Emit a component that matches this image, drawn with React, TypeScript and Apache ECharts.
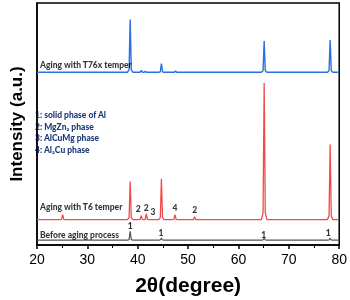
import React, { useEffect, useRef } from "react";
import * as echarts from "echarts";

// 2θ range and tick labels
const xMin = 20;
const xMax = 80;
const xStep = 10;

// Baselines (arbitrary intensity units, stacked offsets)
const beforeBase = 5;
const t6Base = 26;
const t76Base = 177;

// Peaks: [2θ, height above baseline]
const beforePeaks: number[][] = [
  [38.5, 9],
  [44.7, 2],
  [65.1, 2],
  [78.2, 2],
];
const t6Peaks: number[][] = [
  [25.1, 5],
  [38.5, 39],
  [40.7, 4],
  [41.7, 6],
  [44.7, 42],
  [47.4, 5],
  [51.3, 3],
  [65.1, 140],
  [78.2, 77],
];
const t76Peaks: number[][] = [
  [38.5, 54],
  [40.7, 2],
  [41.5, 1],
  [44.7, 9],
  [47.5, 1.5],
  [65.1, 32],
  [78.2, 33],
];

// Phase annotation labels: [2θ, y, text]
const t6Marks: [number, number, string][] = [
  [40.1, 37, "2"],
  [41.7, 38, "2"],
  [43.0, 34, "3"],
  [47.4, 38, "4"],
  [51.3, 36, "2"],
];
const beforeMarks: [number, number, string][] = [
  [38.5, 19, "1"],
  [44.6, 12, "1"],
  [65.0, 10, "1"],
  [77.8, 12, "1"],
];

// Series name labels: [2θ, y, text]
const seriesNames: [number, number, string][] = [
  [20.6, 184, "Aging with T76x temper"],
  [20.6, 39, "Aging with T6 temper"],
  [20.6, 10, "Before aging process"],
];

const phaseLegend = [
  "1: solid phase of Al",
  "2: MgZn₂ phase",
  "3: AlCuMg phase",
  "4: Al₂Cu phase",
];

// peak shape used for drawing (offset in 2θ, fraction of height)
const profile: number[][] = [
  [-0.55, 0],
  [-0.22, 0.05],
  [0, 1],
  [0.22, 0.05],
  [0.55, 0],
];

function buildLine(base: number, peaks: number[][]) {
  const pts: number[][] = [[xMin, base]];
  peaks.forEach(([p, h]) => {
    profile.forEach(([dx, f]) => pts.push([p + dx, base + h * f]));
  });
  pts.push([xMax, base]);
  return pts;
}

const smallFont = "Lato, 'DejaVu Sans', sans-serif";

function labelSeries(marks: [number, number, string][], position: string, color: string) {
  return {
    type: "scatter",
    symbolSize: 0,
    silent: true,
    z: 5,
    data: marks.map(([x, y, t]) => ({ value: [x, y], name: t })),
    label: {
      show: true,
      position,
      distance: 0,
      formatter: "{b}",
      fontSize: 8.5,
      fontWeight: 900,
      fontFamily: smallFont,
      color,
    },
  };
}

export default function App() {
  const ref = useRef<HTMLDivElement>(null);
  useEffect(() => {
    if (!ref.current) return;
    const chart = echarts.init(ref.current, undefined, { renderer: "svg" });
    chart.setOption({
      animation: false,
      grid: {
        left: 31,
        right: 9,
        top: 3,
        bottom: 49,
        show: true,
        borderColor: "#000",
        borderWidth: 1.5,
      },
      xAxis: {
        type: "value",
        min: xMin,
        max: xMax,
        interval: xStep,
        name: "2θ(degree)",
        nameLocation: "middle",
        nameGap: 29,
        nameTextStyle: {
          fontSize: 21,
          fontWeight: "bold",
          color: "#000",
          fontFamily: "'Liberation Sans', Arial, sans-serif",
        },
        axisLine: { lineStyle: { color: "#000", width: 1.5 } },
        axisTick: { inside: false, length: 4, lineStyle: { color: "#000", width: 1.5 } },
        minorTick: { show: true, splitNumber: 2, length: 3, lineStyle: { color: "#000", width: 1 } },
        axisLabel: {
          fontSize: 14,
          color: "#000",
          margin: 7,
          fontFamily: "'Liberation Sans', Arial, sans-serif",
        },
        splitLine: { show: false },
      },
      yAxis: {
        type: "value",
        min: 0,
        max: 248,
        name: "Intensity (a.u.)",
        nameLocation: "middle",
        nameGap: 12,
        nameTextStyle: {
          fontSize: 17,
          fontWeight: "bold",
          color: "#000",
          fontFamily: "'Liberation Sans', Arial, sans-serif",
        },
        axisLine: { show: true, lineStyle: { color: "#000", width: 1.5 } },
        axisTick: { show: false },
        axisLabel: { show: false },
        splitLine: { show: false },
      },
      series: [
        {
          type: "line",
          name: "Before aging process",
          showSymbol: false,
          data: buildLine(beforeBase, beforePeaks),
          lineStyle: { color: "#555", width: 1.2 },
          silent: true,
        },
        {
          type: "line",
          name: "Aging with T6 temper",
          showSymbol: false,
          data: buildLine(t6Base, t6Peaks),
          lineStyle: { color: "#f24a4a", width: 1.3 },
          silent: true,
        },
        {
          type: "line",
          name: "Aging with T76x temper",
          showSymbol: false,
          data: buildLine(t76Base, t76Peaks),
          lineStyle: { color: "#2a6fe6", width: 1.4 },
          silent: true,
        },
        labelSeries(t6Marks, "inside", "#000"),
        labelSeries(beforeMarks, "inside", "#000"),
        labelSeries(seriesNames, "right", "#000"),
      ],
      graphic: [
        {
          type: "text",
          left: 35,
          top: 109,
          silent: true,
          style: {
            text: phaseLegend.join("\n"),
            fill: "#1f3a78",
            font: `900 8.5px ${smallFont}`,
            lineHeight: 11.7,
          },
        },
      ],
    });
    return () => chart.dispose();
  }, []);
  return (
    <div
      ref={ref}
      style={{ position: "fixed", left: 0, top: 0, width: 350, height: 300 }}
    />
  );
}
